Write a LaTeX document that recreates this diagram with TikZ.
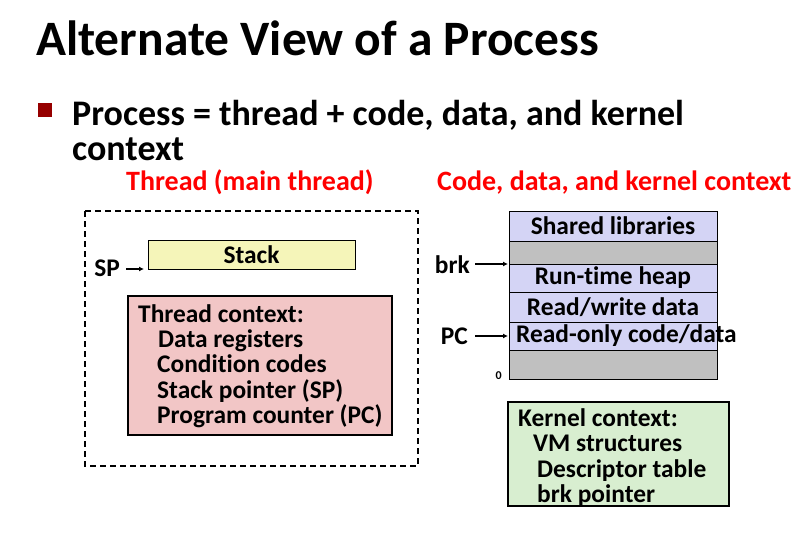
\documentclass[tikz,border=0pt]{standalone}
\usepackage{fontspec}
\setmainfont{Carlito}[Ligatures=NoCommon]
\usetikzlibrary{positioning,arrows.meta}

\definecolor{slidered}{RGB}{255,0,0}
\definecolor{bulletred}{RGB}{150,0,0}
\definecolor{stackyellow}{RGB}{245,245,185}
\definecolor{ctxpink}{RGB}{242,198,198}
\definecolor{seglavender}{RGB}{212,212,245}
\definecolor{seggray}{RGB}{192,192,192}
\definecolor{kerngreen}{RGB}{216,238,208}

\begin{document}
\begin{tikzpicture}[x=1pt,y=-1pt,
		boxfont/.style={font=\bfseries\fontsize{25.4}{25.4}\selectfont},
		headfont/.style={font=\bfseries\fontsize{28}{30}\selectfont},
		seg/.style={draw,outer sep=0pt,inner sep=0pt,minimum width=208,boxfont},
		ctx/.style={draw,line width=1.6pt,outer sep=0pt,anchor=north west},
		ptr/.style={-{Latex[length=5pt,width=5pt]},line width=1.4pt}]
			\useasboundingbox (0,0) rectangle (812,546);
			% title and bullet
			\node[anchor=base west,inner sep=0pt,font=\bfseries\fontsize{49.5}{60}\selectfont] (title) at (36,56) {Alternate View of a Process};
			\fill[bulletred] (38,103) rectangle (52,117);
			\node[anchor=base west,inner sep=0pt,font=\bfseries\fontsize{36}{40}\selectfont] (bullet) at (72,125) {Process = thread + code, data, and kernel};
			\node[anchor=base west,inner sep=0pt,font=\bfseries\fontsize{36}{40}\selectfont] (bulletcont) at (72,160) {context};
			\node[anchor=base west,inner sep=0pt,text=slidered,headfont] (thrhead) at (126,190) {Thread (main thread)};
			\node[anchor=base west,inner sep=0pt,text=slidered,headfont] (codehead) at (437,190) {Code, data, and kernel context};
			% thread
			\draw[line width=1.4pt,dash pattern=on 6pt off 4pt] (85,211) rectangle (418,466);
			\node[draw,fill=stackyellow,outer sep=0pt,minimum width=207,minimum height=29,boxfont] (stack) at (251.5,254.5) {Stack};
			\node[boxfont,anchor=base east,inner sep=0pt] (sp) at (120,276) {SP};
			\draw[ptr,shorten <=6pt,shorten >=4pt] (sp.east |- stack.south west) -- (stack.south west);
			\node[ctx,fill=ctxpink,minimum width=264,minimum height=139] (tctx) at (128,296) {};
			\node[boxfont,anchor=north west,align=left,inner sep=0pt] (tctxtext) at (138,304) {Thread context:\\\hspace{20pt}Data registers\\\hspace{19pt}Condition codes\\\hspace{19pt}Stack pointer (SP)\\\hspace{19pt}Program counter (PC)};
			% address space
			\node[seg,fill=seglavender,minimum height=30] (shlib) at (613,226) {Shared libraries};
			\node[seg,fill=seggray,minimum height=23] (gapa) at (613,252.5) {};
			\node[seg,fill=seglavender,minimum height=28] (heap) at (613,278) {Run-time heap};
			\node[seg,fill=seglavender,minimum height=30] (rwdata) at (613,307) {Read/write data};
			\node[seg,fill=seglavender,minimum height=28] (rodata) at (613,336) {};
			\node[boxfont,anchor=west,inner sep=0pt] (rotext) at (516,336) {Read-only code/data};
			\node[seg,fill=seggray,minimum height=29] (gapb) at (613,364.5) {};
			\node[anchor=east,inner sep=0pt,font=\bfseries\fontsize{12}{14}\selectfont] (zero) at (502,376) {0};
			\node[boxfont,anchor=base east,inner sep=0pt] (brk) at (470,273) {brk};
			\draw[ptr,shorten <=5pt,shorten >=1pt] (brk.east |- heap.north west) -- (heap.north west);
			\node[boxfont,anchor=base east,inner sep=0pt] (pc) at (468,344) {PC};
			\draw[ptr,shorten <=7pt,shorten >=1pt] (pc.east |- rodata.west) -- (rodata.west);
			% kernel
			\node[ctx,fill=kerngreen,minimum width=221,minimum height=104] (kctx) at (508,402) {};
			\node[boxfont,anchor=north west,align=left,inner sep=0pt] (kctxtext) at (518,408.5) {Kernel context:\\\hspace{15pt}VM structures\\\hspace{19pt}Descriptor table\\\hspace{19pt}brk pointer};
		\end{tikzpicture}
\end{document}
